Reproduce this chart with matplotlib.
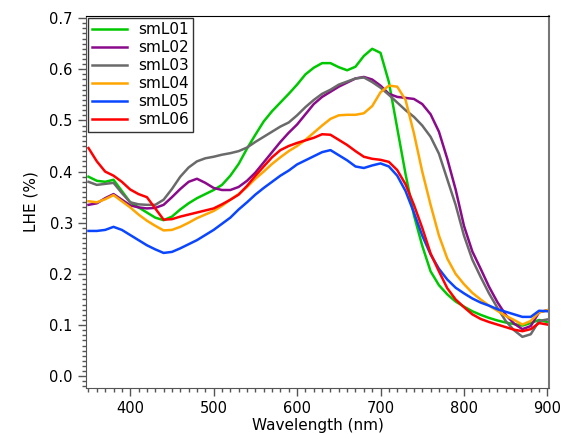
import numpy as np
import matplotlib
matplotlib.use('Agg')
import matplotlib.pyplot as plt
from matplotlib.ticker import MultipleLocator

# Wavelength grid (nm)
wavelength = np.arange(350, 901, 10)

smL01 = [0.390, 0.382, 0.380, 0.384, 0.362, 0.340, 0.330, 0.320, 0.310, 0.305,
         0.312, 0.326, 0.338, 0.348, 0.356, 0.364, 0.374, 0.392, 0.415, 0.445,
         0.472, 0.498, 0.518, 0.535, 0.552, 0.570, 0.590, 0.603, 0.612, 0.612,
         0.604, 0.598, 0.605, 0.626, 0.640, 0.632, 0.575, 0.485, 0.395, 0.315,
         0.255, 0.205, 0.178, 0.160, 0.146, 0.136, 0.127, 0.120, 0.114, 0.109,
         0.105, 0.102, 0.099, 0.104, 0.110, 0.106]
smL02 = [0.335, 0.338, 0.348, 0.356, 0.345, 0.334, 0.330, 0.328, 0.329, 0.335,
         0.350, 0.366, 0.380, 0.386, 0.378, 0.368, 0.364, 0.364, 0.370, 0.382,
         0.398, 0.418, 0.438, 0.458, 0.476, 0.492, 0.512, 0.532, 0.546, 0.556,
         0.566, 0.574, 0.582, 0.585, 0.580, 0.568, 0.552, 0.546, 0.544, 0.542,
         0.532, 0.512, 0.478, 0.425, 0.365, 0.294, 0.244, 0.210, 0.175, 0.145,
         0.120, 0.103, 0.092, 0.098, 0.125, 0.129]
smL03 = [0.380, 0.374, 0.376, 0.378, 0.358, 0.340, 0.336, 0.335, 0.335, 0.345,
         0.366, 0.390, 0.408, 0.420, 0.426, 0.429, 0.433, 0.436, 0.440, 0.447,
         0.458, 0.468, 0.478, 0.488, 0.496, 0.510, 0.526, 0.540, 0.552, 0.560,
         0.570, 0.576, 0.582, 0.584, 0.575, 0.564, 0.550, 0.535, 0.520, 0.507,
         0.490, 0.468, 0.435, 0.385, 0.335, 0.275, 0.228, 0.194, 0.162, 0.134,
         0.108, 0.090, 0.077, 0.082, 0.108, 0.111]
smL04 = [0.342, 0.340, 0.346, 0.354, 0.342, 0.330, 0.316, 0.304, 0.294, 0.285,
         0.286, 0.292, 0.300, 0.309, 0.316, 0.323, 0.333, 0.345, 0.356, 0.370,
         0.386, 0.400, 0.415, 0.428, 0.440, 0.450, 0.462, 0.476, 0.490, 0.503,
         0.510, 0.511, 0.511, 0.514, 0.528, 0.555, 0.568, 0.566, 0.540, 0.475,
         0.400, 0.335, 0.275, 0.230, 0.200, 0.180, 0.163, 0.150, 0.138, 0.128,
         0.118, 0.110, 0.101, 0.108, 0.125, 0.129]
smL05 = [0.284, 0.284, 0.286, 0.292, 0.286, 0.276, 0.266, 0.256, 0.248, 0.241,
         0.243, 0.250, 0.258, 0.266, 0.276, 0.286, 0.298, 0.310, 0.326, 0.340,
         0.355, 0.368, 0.380, 0.392, 0.402, 0.414, 0.422, 0.430, 0.438, 0.442,
         0.432, 0.422, 0.410, 0.407, 0.412, 0.416, 0.410, 0.392, 0.362, 0.320,
         0.275, 0.238, 0.210, 0.189, 0.173, 0.162, 0.152, 0.144, 0.138, 0.131,
         0.126, 0.121, 0.116, 0.116, 0.128, 0.127]
smL06 = [0.446, 0.420, 0.400, 0.392, 0.380, 0.365, 0.356, 0.350, 0.328, 0.306,
         0.307, 0.312, 0.316, 0.320, 0.324, 0.328, 0.336, 0.345, 0.355, 0.372,
         0.392, 0.410, 0.428, 0.442, 0.450, 0.456, 0.461, 0.466, 0.473, 0.472,
         0.462, 0.452, 0.440, 0.429, 0.425, 0.423, 0.419, 0.403, 0.375, 0.335,
         0.290, 0.240, 0.205, 0.172, 0.150, 0.135, 0.121, 0.112, 0.106, 0.101,
         0.096, 0.091, 0.088, 0.092, 0.104, 0.101]

series = [('smL01', smL01, '#00c800'),
          ('smL02', smL02, '#8b0a8b'),
          ('smL03', smL03, '#6a6a6a'),
          ('smL04', smL04, '#ffa500'),
          ('smL05', smL05, '#0a46ff'),
          ('smL06', smL06, '#ff0000')]

fig = plt.figure(figsize=(5.62, 4.34), dpi=100)
ax = fig.add_axes([0.153, 0.106, 0.824, 0.857])

for name, vals, col in series:
    ax.plot(wavelength, vals, color=col, lw=1.8, label=name)

ax.set_xlim(347, 902)
ax.set_ylim(-0.023, 0.704)
ax.xaxis.set_major_locator(MultipleLocator(100))
ax.xaxis.set_minor_locator(MultipleLocator(10))
ax.yaxis.set_major_locator(MultipleLocator(0.1))
ax.yaxis.set_minor_locator(MultipleLocator(0.01))
ax.yaxis.set_major_formatter(matplotlib.ticker.FormatStrFormatter('%.1f'))
ax.tick_params(which='major', direction='out', length=6, width=1, color='#555555', labelsize=10.5)
ax.tick_params(which='minor', direction='out', length=3, width=1, color='#555555')
ax.tick_params(top=False, right=False)

for s in ['left', 'bottom']:
    ax.spines[s].set_color('#555555')
ax.spines['top'].set_color('black')
ax.spines['right'].set_color('#777777')
ax.spines['right'].set_linewidth(1.5)

ax.set_xlabel('Wavelength (nm)', fontsize=11, labelpad=1)
ax.set_ylabel('LHE (%)', fontsize=11, labelpad=8)

leg = ax.legend(loc='upper left', fontsize=11, frameon=True, fancybox=False,
                borderaxespad=0.1, labelspacing=0.2, handlelength=2.3,
                handletextpad=0.7, borderpad=0.3)
leg.get_frame().set_edgecolor('black')
leg.get_frame().set_linewidth(1)

fig.savefig('out.png', dpi=100)
